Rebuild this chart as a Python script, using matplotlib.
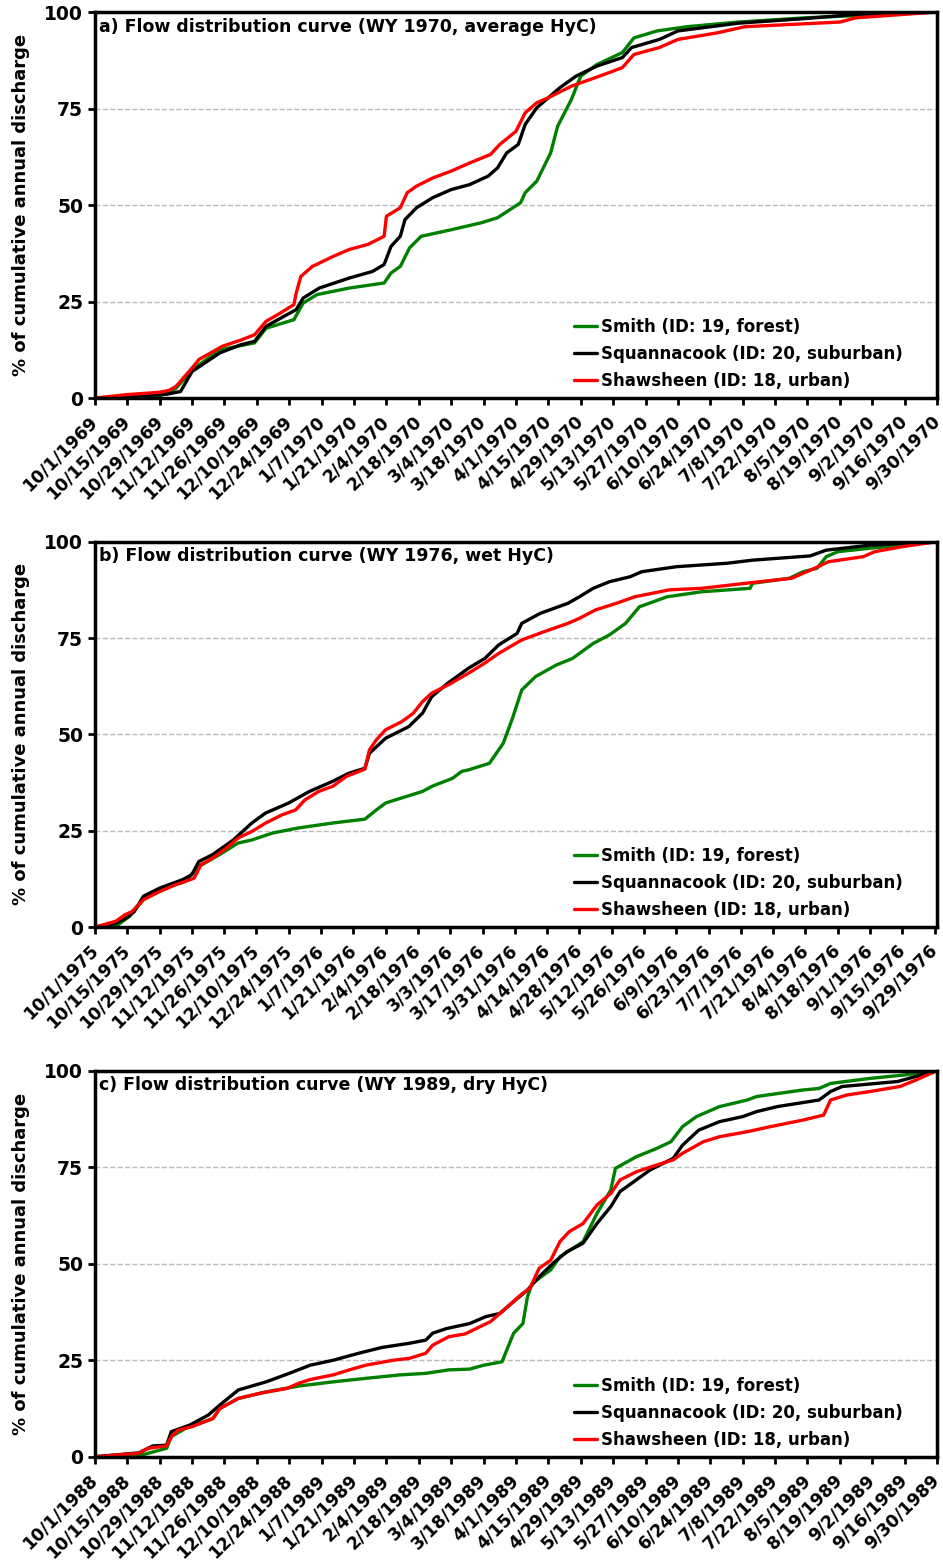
import datetime as dt
import matplotlib
matplotlib.use("Agg")
import matplotlib.pyplot as plt

plt.rcParams['font.family'] = ['DejaVu Sans']
plt.rcParams['font.weight'] = 'bold'

# ---- panel a: WY 1970 (average) ----
a_start = dt.date(1969, 10, 1)
a_green_day = [0, 14, 28, 35, 42, 54, 69, 74, 86, 90, 96, 110, 125, 128, 132, 136, 141, 154, 167,
               174, 184, 186, 191, 197, 200, 206, 210, 217, 228, 233, 243, 256, 278, 307, 364]
a_green = [0, 0.2, 0.5, 2.5, 7.3, 12.5, 14.3, 18.1, 20.3, 24.6, 26.8, 28.5, 29.8, 32.4, 34.1, 38.9, 41.9, 43.6, 45.4,
           46.7, 50.6, 53.2, 56.2, 63.5, 70.4, 77.4, 83.4, 86.4, 89.5, 93.3, 95.1, 96.2, 97.4, 98.5, 100]
a_black_day = [0, 14, 31, 37, 42.5, 54, 63, 69, 74, 83, 87, 90, 97, 110, 120, 125, 128, 132, 134, 139, 146, 154,
               162, 170, 174, 178, 183, 186, 191, 196, 201, 208, 217, 228, 232, 244, 252, 278, 307, 329, 364]
a_black = [0, 0.4, 1.0, 1.7, 6.9, 11.7, 13.8, 14.7, 18.6, 21.6, 22.9, 25.9, 28.5, 31.1, 32.8, 34.6, 39.3, 41.9, 46.2,
           49.3, 51.9, 54, 55.3, 57.5, 59.6, 63.5, 65.7, 70.9, 75.2, 77.8, 80.4, 83.4, 86, 88.2, 90.8, 92.9, 95.1,
           97.1, 98.3, 99.4, 100]
a_red_day = [0, 14, 28, 32, 35, 42, 45, 55, 63, 69, 74, 79, 86, 87, 89, 94.5, 103, 110, 118, 125, 126, 132, 135,
             139, 146, 154, 162, 171, 175, 182, 186, 191, 196, 206, 220, 228, 233, 244, 252, 269, 281, 322, 329, 364]
a_red = [0, 0.9, 1.5, 2.0, 3, 7.8, 10, 13.4, 15, 16.4, 19.9, 21.6, 24.2, 27.2, 31.5, 34.1, 36.7, 38.5, 39.8, 41.9,
         47.1, 49.3, 53.2, 54.9, 57, 58.8, 60.9, 63.1, 65.7, 69.1, 73.9, 76.5, 77.8, 80.8, 83.8, 85.6, 89, 90.8,
         92.9, 94.6, 96.2, 97.4, 98.5, 100]

# ---- panel b: WY 1976 (wet) ----
b_start = dt.date(1975, 10, 1)
b_green_day = [0, 10.8, 15.2, 21, 28.2, 39.7, 45.5, 54.2, 62.9, 68.6, 77.3, 88.9, 103.3, 117.8, 122.1, 126.4,
               142.3, 146.7, 155.3, 159.7, 162.5, 171, 177, 181.3, 185.6, 191, 200, 207, 216, 223, 230, 236, 248,
               263, 284, 285, 301, 307, 313, 317, 322, 336, 365]
b_green = [0, 0.6, 2.8, 7.1, 9.7, 11.8, 15.7, 18.8, 21.8, 22.6, 24.4, 25.7, 27, 28, 30.4, 32.2,
           35.2, 36.5, 38.6, 40.4, 40.8, 42.5, 47.7, 54.2, 61.5, 65, 68, 69.7, 73.6, 75.8, 78.8, 83.1, 85.7,
           87, 87.9, 89.2, 90.5, 92.2, 93.1, 96.1, 97.4, 98.3, 100]
b_black_day = [0, 9, 14, 17, 21, 28.2, 38.3, 42.6, 45.5, 51.3, 60, 68.6, 74.4, 84.5, 93.2, 103.3, 110.5, 117.8,
               119.9, 126.4, 136.6, 142.3, 146.7, 153.9, 162.5, 169.8, 175.6, 183.3, 185.7, 193, 205.9, 210.2,
               216.1, 223.4, 232.1, 237.9, 252.3, 274, 285.6, 310.1, 317.4, 336.1, 365]
b_black = [0, 1.0, 2.5, 4, 8, 10.1, 12.3, 13.6, 17, 18.8, 22.6, 27, 29.6, 32.2, 35.2, 37.8, 39.9, 41.2,
           45.1, 49, 52, 55.5, 59.8, 63.3, 67.2, 69.7, 73.2, 76.2, 78.8, 81.4, 84, 85.7,
           87.9, 89.6, 90.9, 92.2, 93.5, 94.4, 95.2, 96.3, 97.8, 99.1, 100]
b_red_day = [0, 9.4, 13.7, 16.6, 21, 28.2, 35.4, 39.7, 43.4, 46.2, 51.3, 57.1, 62.9, 68.6, 74.4, 81.6, 87.4, 91.8,
             97.5, 103.3, 109.1, 117.8, 119.2, 122.1, 126.4, 133.7, 138, 142.3, 146.7, 153.9, 162.5, 169.8, 175.6,
             185.7, 195.8, 205.9, 210.2, 217.4, 226.1, 234.8, 249.2, 263.7, 285.3, 302.7, 307, 312.8, 318.6, 333,
             338.8, 350.3, 365]
b_red = [0, 1.5, 3.2, 4, 7.1, 9.2, 11, 11.8, 12.7, 16.2, 17.9, 20.5, 23.1, 24.8, 27, 29.1, 30.4, 33,
         35.2, 36.5, 39.1, 41, 46, 48.6, 51.2, 53.3, 55.5, 58.5, 60.7, 62.8, 65.9, 68.5, 71,
         74.5, 76.7, 78.8, 80.1, 82.3, 84, 85.7, 87.5, 87.9, 89.4, 90.5, 91.8, 93.1, 94.8, 96.1,
         97.4, 98.7, 100]

# ---- panel c: WY 1989 (dry) ----
c_start = dt.date(1988, 10, 1)
c_green_day = [0, 20.9, 31, 33.9, 39.7, 51.2, 54.8, 62.8, 74.3, 88.7, 103.2, 117.6, 132, 143.6, 153.7, 162.3,
               168.1, 176, 178.1, 181.1, 185.4, 187.6, 189.8, 197, 201.3, 211.4, 217.2, 223, 225.9, 234.5, 243.2,
               249, 254.8, 260.6, 270.7, 282.2, 286.4, 306.7, 313.9, 318.3, 335.6, 350.1, 364]
c_green = [0, 0.4, 2.2, 5.2, 7.3, 9.9, 12.5, 15.1, 16.8, 18.3, 19.4, 20.3, 21.2, 21.6, 22.5, 22.7,
           23.7, 24.6, 27.6, 32, 34.5, 41.5, 44.9, 48.4, 51.8, 55.7, 63, 69.1, 74.7, 77.7, 79.9,
           81.6, 85.5, 88.1, 90.7, 92.4, 93.3, 95, 95.4, 96.7, 98, 98.9, 100]
c_black_day = [0, 19.5, 25.3, 31, 33.9, 41.1, 49.8, 54.1, 62.8, 74.3, 84.4, 93.1, 103.2, 114.7, 124.8, 136.4,
               143.6, 146.5, 152.2, 162.3, 169.6, 175.3, 181.1, 187.6, 192.6, 198.4, 204.2, 211.4, 217.2, 223,
               227.3, 234.5, 240.3, 250.4, 254.8, 261.9, 270.7, 280.6, 286.4, 295.1, 313.9, 318.3, 323.9, 347.1, 364]
c_black = [0, 1, 2.8, 3, 6.5, 8.2, 10.8, 13.4, 17.3, 19.4, 21.6, 23.7, 25, 26.8, 28.3, 29.4,
           30.2, 32, 33.2, 34.5, 36.3, 37.1, 40.2, 43.2, 46.6, 50.1, 53.1, 55.3, 60.4, 64.8,
           68.7, 71.7, 74.3, 77.3, 80.7, 84.6, 86.8, 88.1, 89.4, 90.7, 92.4, 94.6, 95.9, 97.2, 100]
c_red_day = [0, 19.5, 23.8, 31, 33.2, 36.8, 42.6, 51.2, 54.1, 62.8, 71.4, 83, 88.7, 93.1, 103.2, 110.4, 117.6,
             129.1, 136.4, 143.6, 146.5, 153.7, 160.9, 171, 176.7, 184, 188.3, 192.6, 197, 201.3, 205.6, 211.4,
             217.2, 223, 227.3, 234.5, 243.2, 250.4, 254.8, 263.4, 270.7, 282.2, 292.3, 306.7, 315.4, 318.3,
             325.5, 335.6, 348.6, 355.8, 364]
c_red = [0, 0.9, 2.2, 2.8, 5.2, 6.9, 7.8, 9.9, 12.5, 15.1, 16.4, 17.7, 19, 20, 21.2, 22.5, 23.7,
         25, 25.5, 26.8, 28.9, 31.1, 31.8, 35, 37.6, 41.9, 43.6, 48.8, 50.9, 55.7, 58.3, 60.4,
         65.2, 68.2, 71.7, 73.8, 75.6, 76.9, 78.6, 81.6, 82.9, 84.2, 85.5, 87.2, 88.5, 92.4,
         93.7, 94.6, 95.9, 97.6, 100]

labels = ['Smith (ID: 19, forest)', 'Squannacook (ID: 20, suburban)', 'Shawsheen (ID: 18, urban)']
colors = ['#008000', '#000000', '#ff0000']

panels = [
    ('a) Flow distribution curve (WY 1970, average HyC)', a_start,
     [(a_green_day, a_green), (a_black_day, a_black), (a_red_day, a_red)]),
    ('b) Flow distribution curve (WY 1976, wet HyC)', b_start,
     [(b_green_day, b_green), (b_black_day, b_black), (b_red_day, b_red)]),
    ('c) Flow distribution curve (WY 1989, dry HyC)', c_start,
     [(c_green_day, c_green), (c_black_day, c_black), (c_red_day, c_red)]),
]

fig = plt.figure(figsize=(9.43, 15.61), dpi=100)
boxes = [(0.1007, 0.745, 0.8929, 0.2473), (0.1007, 0.4061, 0.8929, 0.2469), (0.1007, 0.0668, 0.8929, 0.2473)]

for (title, start, series), box in zip(panels, boxes):
    ax = fig.add_axes(box)
    end = dt.date(start.year + 1, 9, 30)
    ndays = (end - start).days
    for (days, vals), lab, col in zip(series, labels, colors):
        xs = [start + dt.timedelta(days=d) for d in days]
        ax.plot(xs, vals, color=col, lw=2.4, label=lab, solid_capstyle='round')
    ax.set_xlim(start, end)
    ax.set_ylim(0, 100)
    ticks = [start + dt.timedelta(days=d) for d in range(0, ndays + 1, 14)]
    ax.set_xticks(ticks)
    ax.set_xticklabels([f"{t.month}/{t.day}/{t.year}" for t in ticks], rotation=45, ha='right',
                       va='center', rotation_mode='anchor', fontsize=12.5, fontweight='bold')
    ax.set_yticks([0, 25, 50, 75, 100])
    ax.set_yticklabels(['0', '25', '50', '75', '100'], fontsize=13.5, fontweight='bold')
    ax.tick_params(axis='both', direction='out', length=5, width=2)
    ax.tick_params(axis='x', pad=10)
    ax.yaxis.grid(True, ls='--', color='#bbbbbb', lw=1)
    ax.set_axisbelow(True)
    for s in ax.spines.values():
        s.set_linewidth(2.5)
    ax.set_ylabel('% of cumulative annual discharge', fontsize=13, fontweight='bold')
    ax.yaxis.set_label_coords(-0.077, 0.5)
    ax.text(0.005, 0.985, title, transform=ax.transAxes, ha='left', va='top', fontsize=12.5, fontweight='bold')
    ax.legend(loc='lower left', bbox_to_anchor=(0.555, -0.01), frameon=False, fontsize=12,
              handlelength=1.4, handletextpad=0.2, labelspacing=0.55, borderaxespad=0.3)

fig.savefig('out.png', dpi=100)
